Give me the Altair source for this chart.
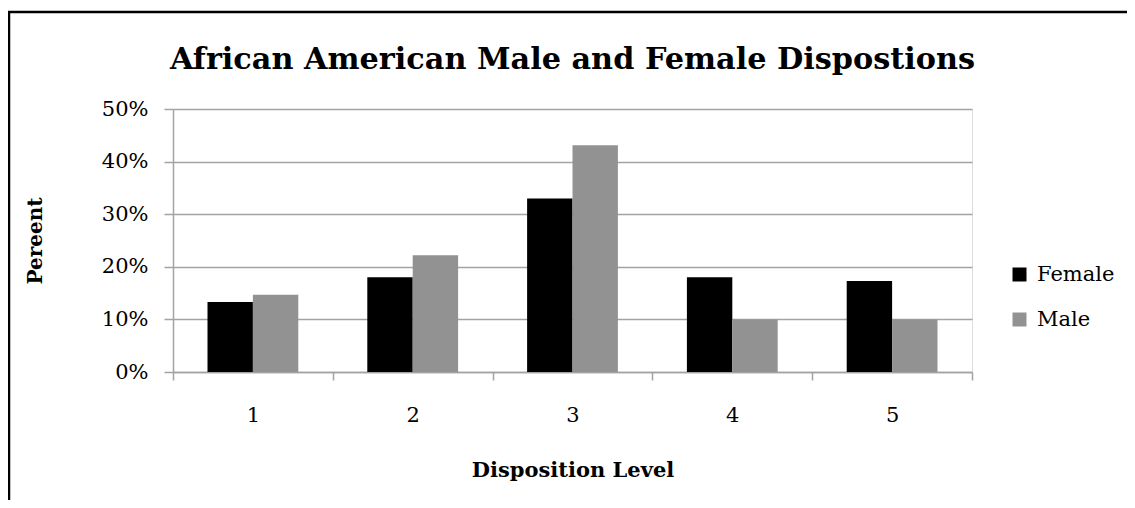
import altair as alt
import pandas as pd

levels = ["1", "2", "3", "4", "5"]
female = [0.133, 0.180, 0.330, 0.180, 0.173]
male = [0.147, 0.222, 0.431, 0.100, 0.100]
series = ["Female", "Male"]
colors = ["#000000", "#929292"]
y_ticks = [0, 0.1, 0.2, 0.3, 0.4, 0.5]

rows = []
for i, lv in enumerate(levels):
    rows.append({"Level": lv, "Gender": "Female", "Percent": female[i]})
    rows.append({"Level": lv, "Gender": "Male", "Percent": male[i]})
df = pd.DataFrame(rows)

FONT = "DejaVu Serif"
GRID = "#a3a3a3"
W, H = 799, 263
PL, PT = 165, 101
TOTAL_W, TOTAL_H = 1119, 492

bars = alt.Chart(df).mark_bar().encode(
    x=alt.X(
        "Level:N", sort=levels,
        scale=alt.Scale(paddingInner=0, paddingOuter=0),
        axis=alt.Axis(
            title="Disposition Level", labelAngle=0, tickBand="extent",
            tickSize=8, tickColor=GRID, tickWidth=1.5,
            domainColor=GRID, domainWidth=1.5,
            labelFont=FONT, labelFontSize=21, labelColor="black", labelPadding=24,
            titleFont=FONT, titleFontSize=21, titleFontWeight="bold", titleColor="black",
            titleY=98, titleBaseline="middle", grid=False,
        ),
    ),
    xOffset=alt.XOffset("Gender:N", sort=series,
                        scale=alt.Scale(paddingInner=0, paddingOuter=0.76)),
    y=alt.Y(
        "Percent:Q", scale=alt.Scale(domain=[0, 0.5]),
        axis=alt.Axis(
            values=y_ticks, format=".0%", title="Pereent",
            tickSize=9, tickColor=GRID, tickWidth=1.5,
            domainColor=GRID, domainWidth=1.5,
            gridColor=GRID, gridWidth=1.5,
            labelFont=FONT, labelFontSize=21, labelColor="black", labelPadding=16,
            titleFont=FONT, titleFontSize=20, titleFontWeight="bold", titleColor="black",
            titleX=-138, titleY=H / 2, titleAlign="center", titleBaseline="middle",
        ),
    ),
    color=alt.Color(
        "Gender:N", scale=alt.Scale(domain=series, range=colors),
        legend=alt.Legend(
            title=None, orient="none", legendX=836, legendY=155,
            symbolType="square", symbolSize=196, symbolStrokeWidth=0,
            labelFont=FONT, labelFontSize=21, labelColor="black",
            rowPadding=23, labelOffset=7,
        ),
    ),
)

frame = alt.Chart(pd.DataFrame({"k": [0]})).mark_rect(
    fill="transparent", stroke="black", strokeWidth=2.5, clip=False
).encode(
    x=alt.value(-164), x2=alt.value(1100),
    y=alt.value(-97), y2=alt.value(500),
)

chart = alt.layer(bars, frame).properties(
    width=W, height=H,
    title=alt.TitleParams(
        "African American Male and Female Dispostions",
        font=FONT, fontSize=30.3, fontWeight="bold", color="black",
        anchor="middle", offset=0, baseline="alphabetic", dy=89,
    ),
    autosize=alt.AutoSizeParams(type="none"),
    padding={"left": PL, "top": PT, "right": TOTAL_W - PL - W, "bottom": TOTAL_H - PT - H},
).configure_view(stroke=None).configure(background="white")

chart.save("out.html", embed_options={"renderer": "svg", "actions": False})
